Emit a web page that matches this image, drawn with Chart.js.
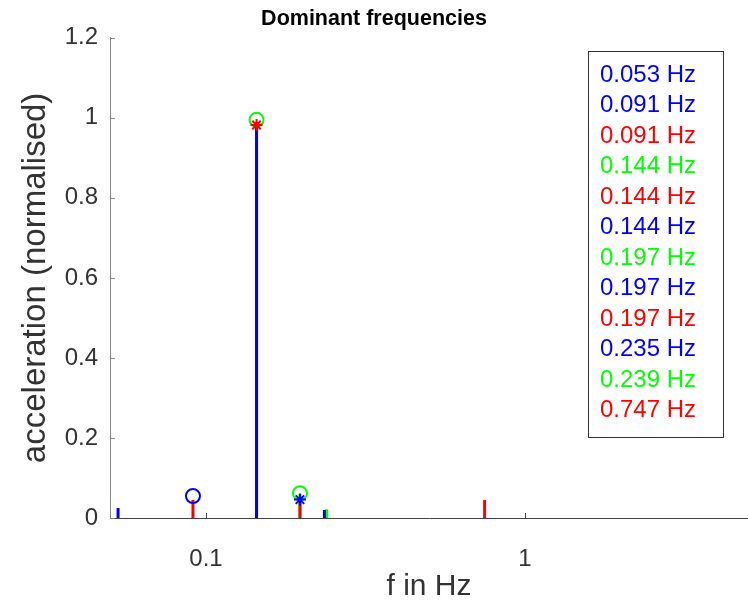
<!DOCTYPE html>
<html>
<head>
<meta charset="utf-8">
<script src="https://cdn.jsdelivr.net/npm/chart.js@4.4.0/dist/chart.umd.min.js"></script>
<style>
  html, body { margin: 0; padding: 0; background: #fff; overflow: hidden; }
  #wrap { width: 748px; height: 602px; }
</style>
</head>
<body>
<div id="wrap"><canvas id="domFreq"></canvas></div>
<script>
// Dominant frequencies - stem plot on log frequency axis

const BLUE = '#0000ff', RED = '#ff0000', GREEN = '#00ff00';

// stems (f in Hz, normalised acceleration)
const blueStemFreq = [0.053, 0.144, 0.235];
const blueStemAmp = [0.025, 0.98, 0.02];
const redStemFreq = [0.091, 0.144, 0.197, 0.747];
const redStemAmp = [0.045, 0.98, 0.04, 0.045];
const greenStemFreq = [0.144, 0.197, 0.239];
const greenStemAmp = [0.99, 0.06, 0.022];

// markers
const circleFreq = [0.091, 0.144, 0.197];
const circleAmp = [0.055, 0.995, 0.062];
const circleColor = [BLUE, GREEN, GREEN];
const starFreq = [0.144, 0.197];
const starAmp = [0.982, 0.046];
const starColor = [RED, BLUE];

// text box on the right
const boxLabels = ['0.053 Hz', '0.091 Hz', '0.091 Hz', '0.144 Hz', '0.144 Hz', '0.144 Hz',
                   '0.197 Hz', '0.197 Hz', '0.197 Hz', '0.235 Hz', '0.239 Hz', '0.747 Hz'];
const boxColors = [BLUE, BLUE, RED, GREEN, RED, BLUE, GREEN, BLUE, RED, BLUE, GREEN, RED];

const xTicks = [0.1, 1];
const yTicks = [0, 0.2, 0.4, 0.6, 0.8, 1, 1.2];

const FONT = "'Liberation Sans', Arial, sans-serif";

function stems(freq, amp) {
  const pts = [];
  freq.forEach((f, i) => {
    pts.push({ x: f, y: 0 }, { x: f, y: amp[i] }, { x: f, y: null });
  });
  return pts;
}

function stemSet(freq, amp, color) {
  return {
    data: stems(freq, amp),
    showLine: true,
    spanGaps: false,
    borderColor: color,
    borderWidth: 3,
    pointRadius: 0,
    pointHoverRadius: 0
  };
}

// MATLAB style ticks pointing into the axes
const inwardTicks = {
  id: 'inwardTicks',
  afterDatasetsDraw(chart) {
    const { ctx, scales: { x, y }, chartArea } = chart;
    ctx.save();
    ctx.lineWidth = 1;
    ctx.strokeStyle = '#444';
    xTicks.forEach(v => {
      const px = Math.round(x.getPixelForValue(v)) + 0.5;
      ctx.beginPath();
      ctx.moveTo(px, chartArea.bottom);
      ctx.lineTo(px, chartArea.bottom - 5);
      ctx.stroke();
    });
    ctx.strokeStyle = '#888';
    yTicks.forEach(v => {
      const py = Math.round(y.getPixelForValue(v)) + 0.5;
      ctx.beginPath();
      ctx.moveTo(chartArea.left, py);
      ctx.lineTo(chartArea.left + 5, py);
      ctx.stroke();
    });
    ctx.restore();
  }
};

const freqBox = {
  id: 'freqBox',
  afterDraw(chart) {
    const ctx = chart.ctx;
    const left = 588, top = 51, w = 135, h = 386;
    ctx.save();
    ctx.fillStyle = '#fff';
    ctx.fillRect(left, top, w, h);
    ctx.strokeStyle = '#333';
    ctx.lineWidth = 1;
    ctx.strokeRect(left + 0.5, top + 0.5, w, h);
    ctx.font = `24px ${FONT}`;
    ctx.textBaseline = 'middle';
    ctx.textAlign = 'left';
    boxLabels.forEach((t, i) => {
      ctx.fillStyle = boxColors[i];
      ctx.fillText(t, 600, 75 + i * 30.5);
    });
    ctx.restore();
  }
};

const ctx = document.getElementById('domFreq').getContext('2d');

new Chart(ctx, {
  type: 'scatter',
  data: {
    datasets: [
      {
        data: starFreq.map((f, i) => ({ x: f, y: starAmp[i] })),
        pointStyle: 'star',
        pointRadius: 6,
        pointBorderWidth: 2,
        pointBorderColor: starColor,
        pointBackgroundColor: starColor
      },
      {
        data: circleFreq.map((f, i) => ({ x: f, y: circleAmp[i] })),
        pointStyle: 'circle',
        pointRadius: 7,
        pointBorderWidth: 2,
        pointBorderColor: circleColor,
        pointBackgroundColor: 'rgba(0,0,0,0)'
      },
      stemSet(blueStemFreq, blueStemAmp, BLUE),
      stemSet(redStemFreq, redStemAmp, RED),
      stemSet(greenStemFreq, greenStemAmp, GREEN)
    ]
  },
  options: {
    responsive: true,
    maintainAspectRatio: false,
    animation: false,
    layout: { padding: 0, autoPadding: false },
    plugins: {
      legend: { display: false },
      tooltip: { enabled: false },
      title: {
        display: true,
        text: 'Dominant frequencies',
        color: '#000',
        font: { family: FONT, size: 21.5, weight: 'bold' },
        padding: { top: 6, bottom: 6 }
      }
    },
    scales: {
      x: {
        type: 'logarithmic',
        min: 0.05,
        max: 5,
        afterBuildTicks: s => { s.ticks = xTicks.map(v => ({ value: v })); },
        afterFit: s => { s.height = 84; s.paddingRight = 0; s.paddingLeft = 0; },
        grid: { display: false, drawTicks: false },
        border: { display: true, color: '#444', width: 1 },
        ticks: {
          autoSkip: false,
          maxRotation: 0,
          padding: 27,
          color: '#333',
          font: { family: FONT, size: 24 },
          callback: v => String(v)
        },
        title: {
          display: true,
          text: 'f in Hz',
          color: '#333',
          font: { family: FONT, size: 30 },
          padding: { top: 0, bottom: -3 }
        }
      },
      y: {
        min: 0,
        max: 1.2,
        afterBuildTicks: s => { s.ticks = yTicks.map(v => ({ value: v })); },
        afterFit: s => { s.width = 110; },
        grid: { display: false, drawTicks: false },
        border: { display: true, color: '#888', width: 1 },
        ticks: {
          padding: 12,
          color: '#333',
          font: { family: FONT, size: 24 },
          callback: v => String(v)
        },
        title: {
          display: true,
          text: 'acceleration (normalised)',
          color: '#333',
          font: { family: FONT, size: 33 },
          padding: { top: 16, bottom: 0 }
        }
      }
    }
  },
  plugins: [inwardTicks, freqBox]
});
</script>
</body>
</html>
